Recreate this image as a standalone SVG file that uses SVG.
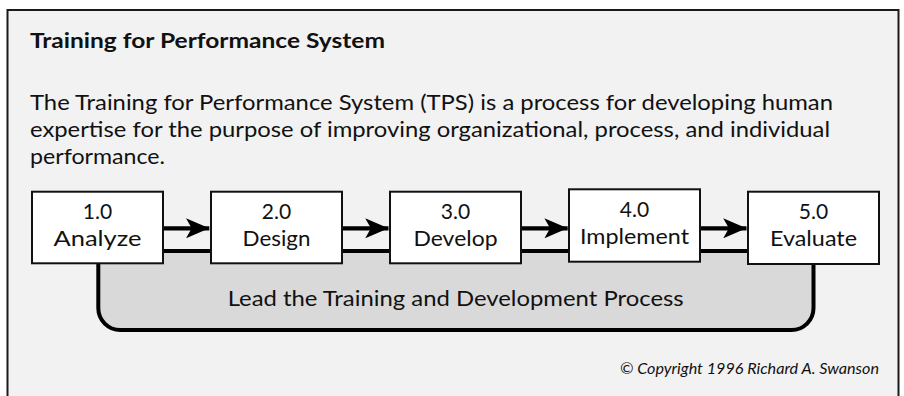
<svg xmlns="http://www.w3.org/2000/svg" width="904" height="396" viewBox="0 0 904 396">
<defs>
<style>
.t{font-family:Lato,"Open Sans","Liberation Sans",sans-serif;fill:#111}
.title{font-size:21.5px;font-weight:bold}
.body{font-size:22px}
.lbl{font-size:22px;text-anchor:middle}
.nl{font-size:21px;text-anchor:middle}
.box{fill:#fff;stroke:#111;stroke-width:2}
.conn{stroke:#000;stroke-width:4.3;fill:none}
.copy{font-size:16px;font-style:italic;text-anchor:end}
</style>
<marker id="ah" markerUnits="userSpaceOnUse" markerWidth="24" markerHeight="20" refX="23.3" refY="10" orient="auto" viewBox="0 0 24 20">
<path d="M0,0 L23.3,10 L0,20 L5.7,10 Z" fill="#000"/>
</marker>
</defs>
<rect x="7.5" y="10" width="891" height="400" fill="#f2f2f2" stroke="#1a1a1a" stroke-width="2"/>
<text class="t title" x="30" y="48" textLength="355" lengthAdjust="spacingAndGlyphs">Training for Performance System</text>
<text class="t body" x="30" y="110" textLength="803" lengthAdjust="spacingAndGlyphs">The Training for Performance System (TPS) is a process for developing human</text>
<text class="t body" x="30" y="136.9" textLength="800" lengthAdjust="spacingAndGlyphs">expertise for the purpose of improving organizational, process, and individual</text>
<text class="t body" x="30" y="163.8" textLength="135" lengthAdjust="spacingAndGlyphs">performance.</text>
<g id="band">
<path d="M98.3,251 H813.5 V308 A22,22 0 0 1 791.5,330 H120.3 A22,22 0 0 1 98.3,308 Z" fill="#d9d9d9" stroke="#000" stroke-width="4"/>
<text class="t lbl" x="455.7" y="306" textLength="456" lengthAdjust="spacingAndGlyphs">Lead the Training and Development Process</text>
</g>
<g id="connectors">
<line class="conn" x1="163" y1="228.3" x2="209.3" y2="228.3" marker-end="url(#ah)"/>
<line class="conn" x1="342" y1="228.3" x2="388.5" y2="228.3" marker-end="url(#ah)"/>
<line class="conn" x1="521" y1="228.3" x2="567.7" y2="228.3" marker-end="url(#ah)"/>
<line class="conn" x1="700" y1="228.3" x2="746.5" y2="228.3" marker-end="url(#ah)"/>
</g>
<g id="n1">
<rect class="box" x="32" y="191.7" width="131" height="71.6"/>
<text class="t nl" x="97.5" y="219">1.0</text>
<text class="t nl" x="97.5" y="245.5" textLength="88" lengthAdjust="spacingAndGlyphs">Analyze</text>
</g>
<g id="n2">
<rect class="box" x="211" y="191.7" width="131" height="71.6"/>
<text class="t nl" x="276.5" y="219">2.0</text>
<text class="t nl" x="276.5" y="245.5" textLength="68" lengthAdjust="spacingAndGlyphs">Design</text>
</g>
<g id="n3">
<rect class="box" x="390" y="191.7" width="131" height="71.6"/>
<text class="t nl" x="455.5" y="219">3.0</text>
<text class="t nl" x="455.5" y="245.5" textLength="84" lengthAdjust="spacingAndGlyphs">Develop</text>
</g>
<g id="n4">
<rect class="box" x="569" y="189.3" width="131" height="72.4"/>
<text class="t nl" x="634.5" y="217">4.0</text>
<text class="t nl" x="634.5" y="243.5" textLength="109" lengthAdjust="spacingAndGlyphs">Implement</text>
</g>
<g id="n5">
<rect class="box" x="748" y="191.7" width="131" height="72.3"/>
<text class="t nl" x="813.5" y="219">5.0</text>
<text class="t nl" x="813.5" y="245.5" textLength="87" lengthAdjust="spacingAndGlyphs">Evaluate</text>
</g>
<text class="t copy" x="879" y="374" textLength="259" lengthAdjust="spacingAndGlyphs">© Copyright 1996 Richard A. Swanson</text>
</svg>
